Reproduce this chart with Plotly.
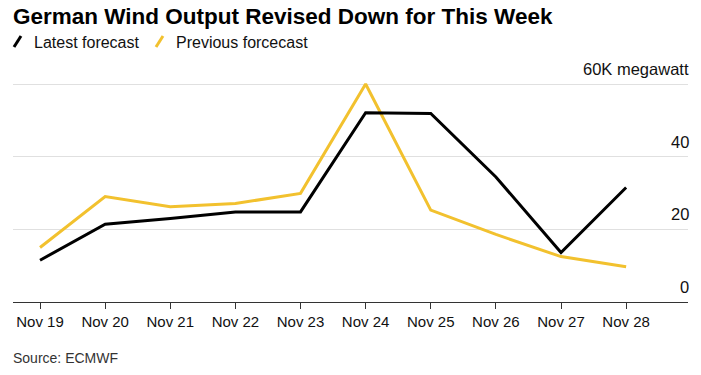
import plotly.graph_objects as go

dates = ["Nov 19", "Nov 20", "Nov 21", "Nov 22", "Nov 23", "Nov 24", "Nov 25", "Nov 26", "Nov 27", "Nov 28"]
latest = [11.5, 21.4, 23.0, 24.8, 24.8, 52.1, 51.9, 34.4, 13.6, 31.5]
previous = [15.0, 29.0, 26.2, 27.1, 29.9, 60.0, 25.3, 18.6, 12.5, 9.7]
y_ticks = [0, 20, 40, 60]
y_ticktext = ["0", "20", "40", "60K megawatt"]

BLACK = "#000000"
YELLOW = "#f2c12e"
FONT = "Liberation Sans, Arial, sans-serif"

L, R, T, B = 13, 13, 55, 73
W, H = 701, 375
PW, PH = W - L - R, H - T - B


def px(x):
    return (x - L) / PW


def py(y):
    return (H - B - y) / PH


fig = go.Figure()
fig.add_trace(go.Scatter(x=dates, y=previous, mode="lines", name="Previous forcecast",
                         line=dict(color=YELLOW, width=3), showlegend=False))
fig.add_trace(go.Scatter(x=dates, y=latest, mode="lines", name="Latest forecast",
                         line=dict(color=BLACK, width=3), showlegend=False))

fig.update_layout(
    width=W, height=H,
    margin=dict(l=L, r=R, t=T, b=B),
    paper_bgcolor="white", plot_bgcolor="white",
    font=dict(family=FONT, color="#111111", size=15),
    title=dict(text="<b>German Wind Output Revised Down for This Week</b>",
               x=0.0, xref="paper", xanchor="left", yref="container", y=1 - 16 / H, yanchor="middle",
               font=dict(size=22.5, color="#000000", family=FONT)),
    xaxis=dict(type="category", range=[-0.415, 9.95], tickmode="array", tickvals=dates, ticktext=dates,
               showgrid=False, showline=True, linecolor="#333333",
               linewidth=1, ticks="outside", ticklen=6, tickcolor="#333333",
               tickfont=dict(size=15, color="#111111"), fixedrange=True, zeroline=False),
    yaxis=dict(range=[0, (H - B - T) / 3.633], side="right", tickvals=y_ticks,
               showticklabels=False, showgrid=True, gridcolor="#e0e0e0",
               gridwidth=1, zeroline=False, showline=False, ticks="", fixedrange=True),
)

# y tick labels above gridlines, right-aligned
for v, t in zip(y_ticks, y_ticktext):
    fig.add_annotation(text=t, xref="paper", yref="y", x=1, y=v, xanchor="right", yanchor="middle",
                       xshift=3, yshift=15, showarrow=False,
                       font=dict(size=16.5, color="#111111", family=FONT))

# custom legend
legend_items = [("Latest forecast", BLACK, 14, 32), ("Previous forcecast", YELLOW, 156, 174)]
for label, color, sx, tx in legend_items:
    fig.add_shape(type="line", xref="paper", yref="paper",
                  x0=px(sx), x1=px(sx + 7), y0=py(47), y1=py(36),
                  line=dict(color=color, width=3))
    fig.add_annotation(text=label, xref="paper", yref="paper",
                       x=px(tx), y=py(42), xanchor="left", yanchor="middle",
                       showarrow=False, font=dict(size=16, color="#111111", family=FONT))

fig.add_annotation(text="Source: ECMWF", xref="paper", yref="paper",
                   x=px(11), y=py(358), xanchor="left", yanchor="middle",
                   showarrow=False, font=dict(size=14, color="#333333", family=FONT))

fig.write_html("out.html", post_script="document.body.style.margin='0';",
               config={"displayModeBar": False})
